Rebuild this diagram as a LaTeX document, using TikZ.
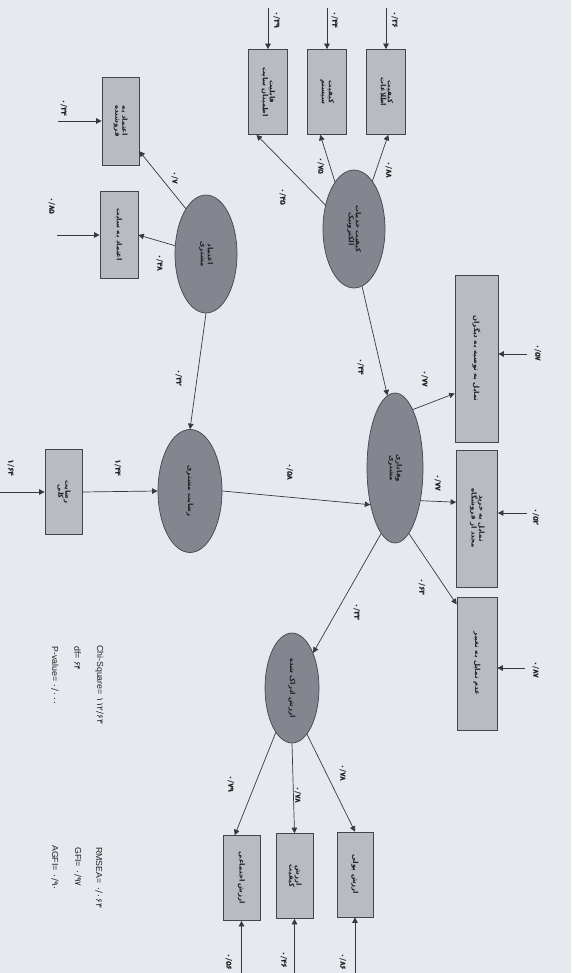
\documentclass[tikz,border=0pt]{standalone}
\usepackage{fontspec}
\usepackage{graphicx}
\setmainfont{Liberation Sans}
\newfontfamily\fafont[Script=Arabic]{DejaVu Sans}
\newfontfamily\numfont{DejaVu Sans}
\TeXXeTstate=1
\usetikzlibrary{shapes.geometric,arrows.meta}
\definecolor{bg}{RGB}{230,234,238}
\definecolor{boxfill}{RGB}{184,187,193}
\definecolor{ellfill}{RGB}{132,134,143}
\definecolor{edge}{RGB}{68,68,74}
\definecolor{linec}{RGB}{56,56,62}
\definecolor{txt}{RGB}{32,32,36}
\newcommand{\rt}[1]{\rotatebox{-90}{#1}}
\newcommand{\two}[2]{\rotatebox{-90}{\fafont\bfseries\begin{tabular}{@{}c@{}}#1\\[-1pt]#2\end{tabular}}}
\newcommand{\pn}[1]{{\numfont #1}}
\begin{document}
\begin{tikzpicture}[x=1pt,y={(0pt,-1pt)},
  indbox/.style={draw=edge, fill=boxfill, rectangle, line width=0.7pt, inner sep=1pt, text=txt,
    font=\bfseries\fontsize{7}{8}\selectfont},
  lat/.style={draw=edge, fill=ellfill, ellipse, line width=0.7pt, inner sep=0pt, text=txt,
    font=\bfseries\fontsize{7}{8}\selectfont},
  arr/.style={draw=linec, line width=0.7pt, -{Triangle[length=5.5pt,width=5.5pt]}},
  lab/.style={inner sep=0pt, text=txt, font=\numfont\bfseries\fontsize{8}{9}\selectfont},
  fit/.style={inner sep=0pt, anchor=north west, text=txt, font=\fontsize{8.8}{9}\selectfont}]
\fill[bg] (0,0) rectangle (571,973);
\useasboundingbox (0,0) rectangle (571,973);

% latent variables
\node[lat, minimum width=62pt, minimum height=118pt] (E1) at (354,229) {\two{\beginR کیفیت خدمات\endR}{\beginR الکترونیک\endR}};
\node[lat, minimum width=62pt, minimum height=118pt] (E2) at (206,254) {\two{\beginR اعتماد\endR}{\beginR مشتری\endR}};
\node[lat, minimum width=64pt, minimum height=123pt] (G) at (190,491) {\rt{\fafont\beginR رضایت مشتری\endR}};
\node[lat, minimum width=56pt, minimum height=150pt] (H) at (395,468) {\two{\beginR وفاداری\endR}{\beginR مشتری\endR}};
\node[lat, minimum width=54pt, minimum height=110pt] (L) at (292,688) {\rt{\fafont\beginR ارزش ادراک شده\endR}};

% indicators
\node[indbox, minimum width=39pt, minimum height=85pt] (A) at (386,92) {\two{\beginR کیفیت\endR}{\beginR اطلاعات\endR}};
\node[indbox, minimum width=39pt, minimum height=85pt] (B) at (327,92) {\two{\beginR کیفیت\endR}{\beginR سیستم\endR}};
\node[indbox, minimum width=39pt, minimum height=85pt] (C) at (268,92) {\two{\beginR قابلیت\endR}{\beginR اطمینان سایت\endR}};
\node[indbox, minimum width=37pt, minimum height=88pt] (D) at (120.5,121) {\two{\beginR اعتماد به\endR}{\beginR فروشنده\endR}};
\node[indbox, minimum width=38pt, minimum height=87pt] (E) at (119,235) {\rt{\fafont\beginR اعتماد به سایت\endR}};
\node[indbox, minimum width=37pt, minimum height=85pt] (F) at (63.5,492) {\two{\beginR رضایت\endR}{\beginR کلی\endR}};
\node[indbox, minimum width=43pt, minimum height=167pt] (I) at (476.5,358.5) {\rt{\fafont\beginR تمایل به توصیه به دیگران\endR}};
\node[indbox, minimum width=41pt, minimum height=137pt] (J) at (477,518.5) {\two{\beginR تمایل به خرید\endR}{\beginR مجدد از فروشگاه\endR}};
\node[indbox, minimum width=40pt, minimum height=133pt] (K) at (477,663.5) {\rt{\fafont\beginR عدم تمایل به تغییر\endR}};
\node[indbox, minimum width=36pt, minimum height=85pt] (M) at (355,874.5) {\rt{\fafont\beginR ارزش پولی\endR}};
\node[indbox, minimum width=37pt, minimum height=85pt] (N) at (294.5,876) {\two{\beginR ارزش\endR}{\beginR کیفیت\endR}};
\node[indbox, minimum width=37pt, minimum height=85pt] (O) at (241.5,878) {\rt{\fafont\beginR ارزش اجتماعی\endR}};

% error term tails
\coordinate (eA) at (386,8);
\coordinate (eB) at (327,8);
\coordinate (eC) at (268,8);
\coordinate (eD) at (58,121);
\coordinate (eE) at (57,235);
\coordinate (eF) at (0,492);
\coordinate (eI) at (527,354);
\coordinate (eJ) at (527,513);
\coordinate (eK) at (525,668);
\coordinate (eM) at (355,976);
\coordinate (eN) at (294.5,976);
\coordinate (eO) at (241.5,976);

\draw[arr] (eA) -- (A);
\draw[arr] (eB) -- (B);
\draw[arr] (eC) -- (C);
\draw[arr] (eD) -- (D);
\draw[arr] (eE) -- (E);
\draw[arr] (eF) -- (F);
\draw[arr] (eI) -- (I.east |- eI);
\draw[arr] (eJ) -- (J.east |- eJ);
\draw[arr] (eK) -- (K.east |- eK);
\draw[arr] (eM) -- (M);
\draw[arr] (eN) -- (N);
\draw[arr] (eO) -- (O);

% structural and measurement paths
\draw[arr] (E1.69) -- (A.273);
\draw[arr] (E1.112) -- (B.261);
\draw[arr] (E1.140) -- (C.255);
\draw[arr] (E2.114) -- (D.302);
\draw[arr] (E2.165) -- (E.east);
\draw[arr] (E2.south) -- (G.north);
\draw[arr] (F.east) -- (G.west);
\draw[arr] (G.east) -- (H.236);
\draw[arr] (E1.278) -- (H.96);
\draw[arr] (H.73) -- (I.238);
\draw[arr] (H.308) -- (J.142);
\draw[arr] (H.282) -- (K.109);
\draw[arr] (H.258) -- (L.59);
\draw[arr] (L.288) -- (M.north);
\draw[arr] (L.south) -- (N.north);
\draw[arr] (L.250) -- (O.99);

% coefficient labels
\node[lab] (lA) at (395,20) {\rt{۰/۳۶}};
\node[lab] (lB) at (335,20) {\rt{۰/۴۴}};
\node[lab] (lC) at (277,20) {\rt{۰/۳۹}};
\node[lab] (lEA) at (389,170) {\rt{۰/۸۸}};
\node[lab] (lEB) at (321,166) {\rt{۰/۷۵}};
\node[lab] (lEC) at (283,197) {\rt{۰/۴۵}};
\node[lab] (lED) at (175,178) {\rt{۰/۷}};
\node[lab] (lEE) at (160,263) {\rt{۰/۴۸}};
\node[lab] (lD) at (64,108) {\rt{۰/۳۴}};
\node[lab] (lE) at (52,206) {\rt{۰/۸۵}};
\node[lab] (lF) at (11,468) {\rt{۱/۶۴}};
\node[lab] (lFG) at (118,468) {\rt{۱/۴۴}};
\node[lab] (lEG) at (179,378) {\rt{۰/۳۲}};
\node[lab] (lGH) at (290,472) {\rt{۰/۵۸}};
\node[lab] (lEH) at (361,367) {\rt{۰/۴۴}};
\node[lab] (lHI) at (425,379) {\rt{۰/۷۷}};
\node[lab] (lHJ) at (438,483) {\rt{۰/۷۷}};
\node[lab] (lHK) at (422,587) {\rt{۰/۶۳}};
\node[lab] (lHL) at (357,612) {\rt{۰/۳۳}};
\node[lab] (lI) at (538,353) {\rt{۰/۵۷}};
\node[lab] (lJ) at (536,517) {\rt{۰/۵۲}};
\node[lab] (lK) at (536,670) {\rt{۰/۸۷}};
\node[lab] (lLM) at (343,773) {\rt{۰/۷۸}};
\node[lab] (lLN) at (298,795) {\rt{۰/۷۸}};
\node[lab] (lLO) at (231,784) {\rt{۰/۷۹}};
\node[lab] (lM) at (343,962) {\rt{۰/۸۶}};
\node[lab] (lN) at (284,960) {\rt{۰/۴۶}};
\node[lab] (lO) at (229,962) {\rt{۰/۵۶}};

% fit statistics
\node[fit] (chi) at (95,645) {\rt{Chi-Square= \pn{۱۱۲/۶۳}}};
\node[fit] (df) at (74,646) {\rt{df= \pn{۶۴}}};
\node[fit] (pv) at (51,646) {\rt{P-value= \pn{۰/۰۰۰}}};
\node[fit] (rmsea) at (95,847) {\rt{RMSEA= \pn{۰/۰۶۳}}};
\node[fit] (gfi) at (74,847) {\rt{GFI= \pn{۰/۹۷}}};
\node[fit] (agfi) at (51,845) {\rt{AGFI= \pn{۰/۹۰}}};
\end{tikzpicture}
\end{document}
